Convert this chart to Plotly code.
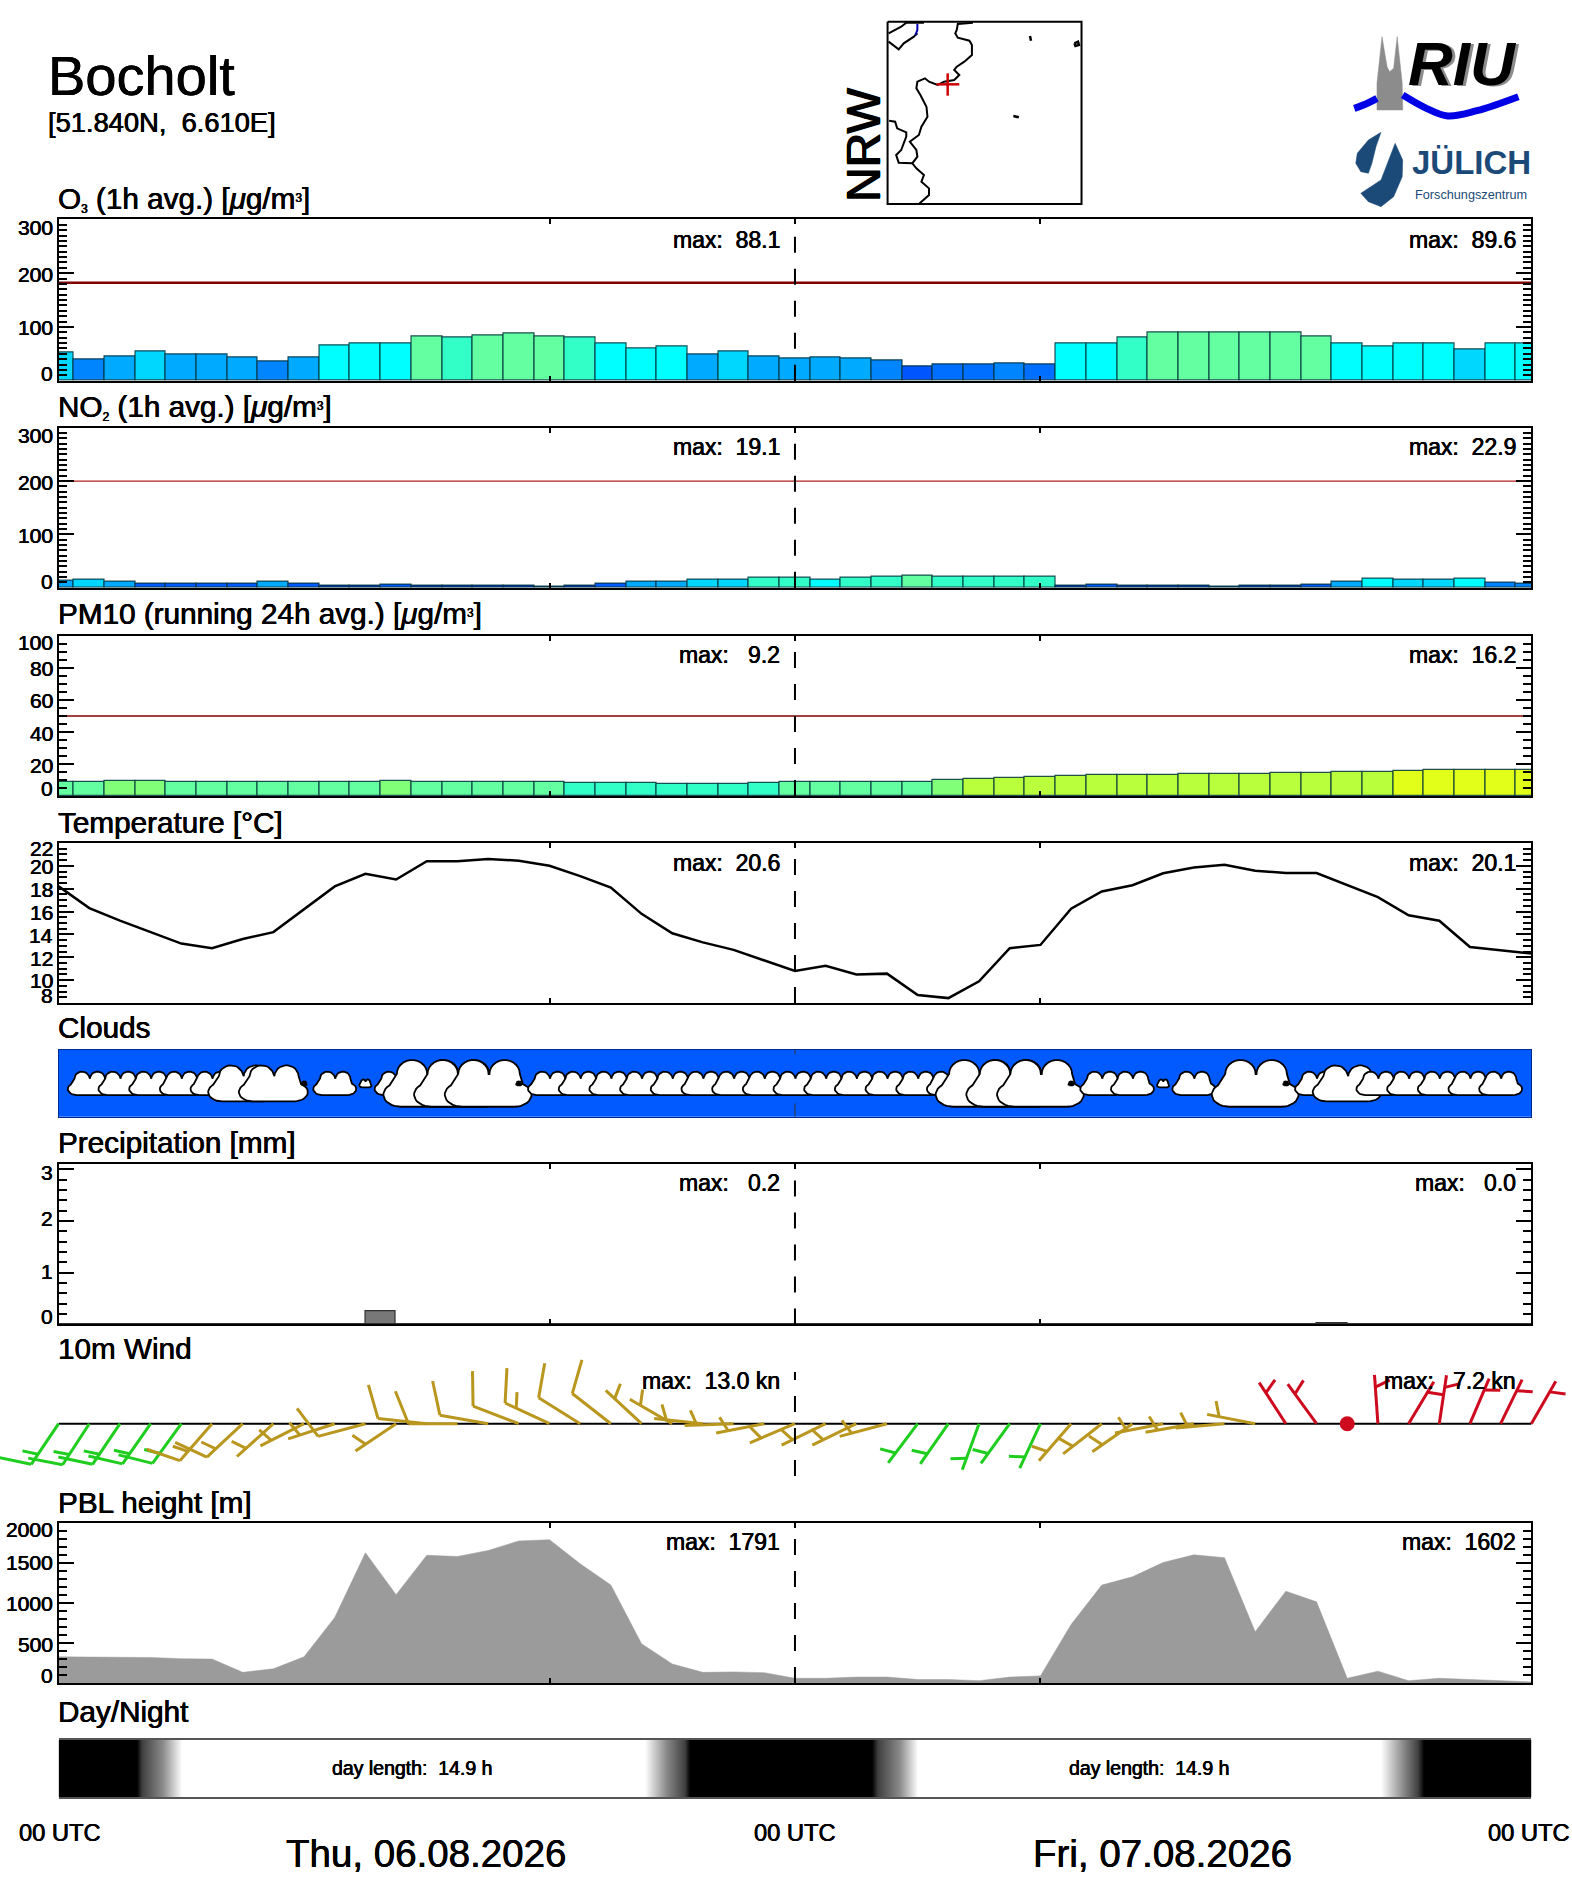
import plotly.graph_objects as go
import numpy as np

W, H = 1572, 1889
S = 1572 / 1306  # reference picture grid to figure pixels

hours = list(range(49))
half_hours = [h + 0.5 for h in range(48)]

o3 = [52, 39, 46, 54, 48, 48, 43, 35, 44, 65, 70, 70, 81.5, 80, 85, 88.1, 81.5, 80, 68.5, 61, 63, 48, 54, 46, 41,
      44, 41, 37, 26, 31, 31, 33, 31, 70, 70, 80, 89, 89, 89, 89.6, 89, 83, 68.5, 63, 70, 70, 59, 68.5, 70]
no2 = [13.7, 15, 11, 7.5, 7.5, 7, 7.5, 11, 7.5, 3.7, 3.7, 5.5, 3.7, 3.7, 3, 3, 2.5, 3.7, 7.5, 11, 11, 15, 15, 18, 19.1,
       16, 18.7, 20, 22.9, 20, 20, 20, 20, 4.5, 5.5, 3.5, 3.5, 3.5, 1.5, 3, 3.5, 5.5, 11, 17, 15, 15, 17, 9, 8]
pm10 = [9.0, 9.0, 9.2, 9.2, 9.0, 9.0, 8.9, 9.0, 9.0, 9.0, 9.0, 9.2, 8.6, 8.6, 8.6, 8.6, 8.6, 8.4, 8.0, 8.0, 7.8, 7.8, 7.8, 8.0, 8.6,
        8.6, 9.0, 9.0, 9.0, 9.8, 10.8, 11.4, 12.0, 12.4, 13.0, 13.4, 13.4, 13.8, 13.8, 13.8, 14.4, 14.4, 15.0, 15.0, 15.4, 16.0, 16.2, 16.2, 16.2]
temperature = [18.2, 16.3, 15.2, 14.2, 13.2, 12.8, 13.6, 14.2, 16.2, 18.2, 19.3, 18.8, 20.4, 20.4, 20.6, 20.45, 20.0, 19.1, 18.1, 15.8, 14.1, 13.3, 12.65, 11.7, 10.8,
               11.26, 10.5, 10.57, 8.7, 8.43, 9.9, 12.8, 13.08, 16.25, 17.75, 18.3, 19.35, 19.85, 20.1, 19.57, 19.37, 19.37, 18.3, 17.26, 15.68, 15.2, 12.9, 12.6, 12.33]
precip = [0] * 48
precip[10] = 0.25
precip[41] = 0.02
pbl = [328, 328, 328, 320, 305, 300, 134, 179, 328, 820, 1627, 1105, 1597, 1582, 1657, 1776, 1791, 1490, 1224, 492, 239, 134, 140, 130, 60,
       60, 75, 75, 45, 45, 30, 75, 90, 731, 1224, 1328, 1507, 1602, 1567, 642, 1149, 1015, 60, 149, 30, 60, 45, 30, 15]
wind_dir = [214, 213, 214, 215, 216, 221, 227, 228, 243, 252, 255, 236, 276, 270, 280, 291, 295, 302, 308, 313, 300, 276, 268, 259, 247,
            244, 244, 255, 217, 215, 200, 216, 205, 221, 232, 235, 259, 260, 265, 281, 327, 324, 0, 356, 31, 8.5, 23, 26, 30]
wind_kn = [12.6, 12.6, 12.6, 12.6, 12.6, 12.6, 12.6, 7, 7, 7, 9, 7, 10, 10, 10, 10, 13, 10, 10, 7, 7, 7, 7, 7, 7,
           6, 6, 6, 6, 6, 6, 6, 6, 6, 6, 6, 6, 6, 6, 6, 7, 7, 0, 7.2, 7, 7, 7, 7, 7]
# 0 none, 1 speck, 2 tiny, 3 small, 4 medium, 5 large
cloud_class = [0, 3, 3, 3, 3, 3, 4, 4, 1, 3, 2, 3, 5, 5, 5, 1, 3, 3, 3, 3, 3, 3, 3, 3, 3,
               3, 3, 3, 3, 3, 5, 5, 5, 1, 3, 3, 2, 3, 1, 5, 1, 3, 4, 3, 3, 3, 3, 3, 0]
cloud_w = {1: 0.17, 2: 0.40, 3: 1.40, 4: 2.25, 5: 2.83}
cloud_h = {1: 0.06, 2: 0.12, 3: 0.35, 4: 0.54, 5: 0.70}
light_hours = [0, 2.55, 2.7, 3.4, 4.0, 19.1, 19.8, 20.4, 20.57, 26.5, 26.7, 27.4, 28.0, 43.1, 43.8, 44.3, 44.5, 48]
light_level = [0, 0, .25, .55, 1, 1, .55, .25, 0, 0, .25, .55, 1, 1, .55, .25, 0, 0]

SMALL = '<span style="font-size:17px">%s</span>'
panel_titles = ['O' + SMALL % '<sub>3</sub>' + ' (1h avg.) [<i>μ</i>g/m' + SMALL % '<sup>3</sup>' + ']',
                'NO' + SMALL % '<sub>2</sub>' + ' (1h avg.) [<i>μ</i>g/m' + SMALL % '<sup>3</sup>' + ']',
                'PM10 (running 24h avg.) [<i>μ</i>g/m' + SMALL % '<sup>3</sup>' + ']',
                'Temperature [°C]', 'Clouds', 'Precipitation [mm]', '10m Wind', 'PBL height [m]', 'Day/Night']
title_rows = [165, 338, 510, 683, 854, 949, 1120, 1248, 1422]
NB = '\u00a0'
max_labels = [('88.1', '89.6', 199, 2, 2), ('19.1', '22.9', 371, 2, 2), ('9.2', '16.2', 544, 3, 2), ('20.6', '20.1', 717, 2, 2),
              ('0.2', '0.0', 983, 3, 3), ('13.0 kn', '7.2 kn', 1147, 2, 3), ('1791', '1602', 1281, 2, 2)]
o3_labels = [('300', 189), ('200', 228), ('100', 272), ('0', 310)]
no2_labels = [('300', 362), ('200', 401), ('100', 445), ('0', 483)]
pm10_labels = [('100', 534), ('80', 555), ('60', 582), ('40', 609), ('20', 636), ('0', 655)]
temp_labels = [('22', 705), ('20', 720), ('18', 739), ('16', 758), ('14', 777), ('12', 796), ('10', 815), ('8', 827)]
precip_labels = [('3', 974), ('2', 1012), ('1', 1056), ('0', 1094)]
pbl_labels = [('2000', 1271), ('1500', 1298), ('1000', 1332), ('500', 1366), ('0', 1392)]

# map and logo outlines, in the grid of the header crop
border_x = [382, 352, 350, 347, 352, 375, 380, 380, 365, 350, 345, 355, 345, 325, 312, 295, 287, 272, 270, 278, 290, 292, 280, 275, 257, 270, 272, 262, 270, 285, 280, 295, 295, 285, 275]
border_y = [68, 72, 90, 100, 113, 122, 135, 165, 185, 200, 210, 225, 240, 245, 255, 245, 235, 245, 265, 285, 320, 350, 380, 405, 425, 450, 470, 490, 505, 525, 545, 565, 585, 600, 612]
enclave_x = [216, 228, 232, 250, 250, 240, 230, 235, 262]
enclave_y = [362, 365, 385, 397, 410, 450, 465, 488, 490]
lake_x = [215, 240, 250, 285, None, 215, 235, 245, 265, 272]
lake_y = [100, 80, 68, 68, None, 125, 148, 130, 110, 100]
lake_blue_x = [272, 272, 268]
lake_blue_y = [72, 90, 105]
speck_x = [495, 497, None, 583, 590, 592, 585, 583, None, 462, 473]
speck_y = [108, 122, None, 130, 125, 135, 138, 130, None, 348, 352]
church_x = [1182, 1182, 1192, 1202, 1207, 1215, 1222, 1232, 1233, 1182]
church_y = [330, 250, 110, 200, 215, 205, 110, 250, 330, 330]
wave_a_x = [1137, 1160, 1182]
wave_a_y = [325, 312, 295]
wave_b_x = [1233, 1280, 1322, 1380, 1462]
wave_b_y = [285, 325, 348, 332, 290]
drop_a_x = [1190, 1165, 1143, 1140, 1150, 1165, 1172, 1180, 1190]
drop_a_y = [397, 420, 460, 490, 515, 520, 490, 440, 397]
drop_b_x = [1218, 1205, 1190, 1150, 1165, 1190, 1215, 1232, 1233, 1218]
drop_b_y = [430, 480, 540, 580, 605, 620, 590, 530, 480, 430]

BLACK = '#000000'
FONT = 'Liberation Sans'


def arc(cx, cy, rx, ry, a0, a1, n=14):
    t = np.radians(np.linspace(a0, a1, n))
    return list(cx + rx * np.cos(t)), list(cy + ry * np.sin(t))


def cloud_outline():
    xs, ys = [], []
    for spec in [(-.30, .26, .20, .26, 270, 130), (-.17, .70, .175, .30, 180, 0), (.19, .70, .175, .30, 180, 0), (.30, .26, .20, .26, 60, -90)]:
        ax_, ay_ = arc(*spec)
        xs += ax_
        ys += ay_
    return xs + [xs[0]], ys + [ys[0]]


cloud_x, cloud_y = cloud_outline()


def vfrac(y):
    return 1 - y / H


def o3_color(v):
    for lim, c in [(28, '#0055ff'), (33, '#006eff'), (40, '#0085ff'), (50, '#00aaff'), (60, '#00d7ff'), (75, '#00ffff'), (81, '#32ffc8')]:
        if v < lim:
            return c
    return '#64ffa0'


def no2_color(v):
    for lim, c in [(5, '#0032c8'), (8, '#005aff'), (10, '#0085ff'), (14, '#00aaff'), (16, '#00d7ff'), (18, '#00ffff'), (22, '#32ffc8')]:
        if v < lim:
            return c
    return '#64ffa0'


def pm_color(v):
    for lim, c in [(8.5, '#32ffc8'), (9.05, '#64ffa0'), (10.3, '#82ff78'), (15.2, '#b9ff3c')]:
        if v < lim:
            return c
    return '#e1ff19'


fig = go.Figure()
layout = dict(width=W, height=H, margin=dict(l=0, r=0, t=0, b=0), paper_bgcolor='white', plot_bgcolor='rgba(0,0,0,0)',
              showlegend=False, font=dict(family=FONT, color=BLACK), hovermode=False)
X0, X1 = 48.7 * S, 1272.2 * S
annotations, shapes = [], []
HEAVY = '0.35px 0 0 %s, -0.35px 0 0 %s'


def note(x, y, text, size, anchor='left'):
    shift = {'left': -2, 'right': 2.5, 'center': 0}[anchor]
    annotations.append(dict(x=x * S / W, y=vfrac(y * S), xref='paper', yref='paper', text=text, showarrow=False, xshift=shift,
                            xanchor=anchor, yanchor='middle', font=dict(size=size, family=FONT, color=BLACK, shadow=HEAVY % (BLACK, BLACK))))


def panel(n, top, bottom, yrange, major, minor, ticks=True):
    sfx = '' if n == 1 else str(n)
    top, bottom = top + 1.3, bottom + 0.3
    layout['xaxis' + sfx] = dict(domain=[X0 / W, X1 / W], range=[0, 48], anchor='y' + sfx, showgrid=False, zeroline=False,
                                 showline=True, mirror='ticks' if ticks else True, linecolor=BLACK, linewidth=2,
                                 ticks='inside' if ticks else '', tickvals=[16, 24, 32] if ticks else [], ticklen=5, tickwidth=1.5,
                                 tickcolor=BLACK, showticklabels=False, fixedrange=True)
    ya = dict(domain=[vfrac(bottom * S), vfrac(top * S)], range=yrange, anchor='x' + sfx, showgrid=False, zeroline=False,
              showline=True, mirror='ticks' if ticks else True, linecolor=BLACK, linewidth=2, showticklabels=False, fixedrange=True)
    if ticks:
        ya.update(ticks='inside', dtick=major, tick0=yrange[0] if yrange[0] % major == 0 else 0, ticklen=15, tickwidth=1.5, tickcolor=BLACK,
                  minor=dict(dtick=minor, tick0=0, ticks='inside', ticklen=8, tickwidth=2, tickcolor=BLACK))
    else:
        ya.update(ticks='', tickvals=[])
    layout['yaxis' + sfx] = ya
    return dict(xaxis='x' + sfx, yaxis='y' + sfx), sfx


def midline(sfx):
    shapes.append(dict(type='line', xref='x' + sfx, yref=('y' + sfx + ' domain'), x0=24, x1=24, y0=0, y1=1,
                       line=dict(color=BLACK, width=2, dash='16px,16px')))


def threshold(ax, value, width, color):
    fig.add_trace(go.Scatter(x=[0, 48], y=[value, value], mode='lines', line=dict(color=color, width=width), **ax))


def bars(ax, x, y, colors):
    fig.add_trace(go.Bar(x=x, y=y, width=1, marker=dict(color=colors, line=dict(color='rgba(0,50,60,0.85)', width=1.2)), **ax))


# O3
ax, sfx = panel(1, 181, 316, [0, 300], 100, 10)
bars(ax, hours, o3, [o3_color(v) for v in o3])
threshold(ax, 182, 2.5, '#800000')
midline(sfx)
# NO2
ax, sfx = panel(2, 354, 488, [0, 300], 100, 10)
bars(ax, hours, no2, [no2_color(v) for v in no2])
threshold(ax, 200, 1.2, '#b02020')
midline(sfx)
# PM10
ax, sfx = panel(3, 527, 661, [0, 100], 20, 5)
bars(ax, hours, pm10, [pm_color(v) for v in pm10])
threshold(ax, 50, 1.5, '#800000')
midline(sfx)
# temperature
ax, sfx = panel(4, 699, 833, [8, 22], 2, 0.5)
fig.add_trace(go.Scatter(x=hours, y=temperature, mode='lines', line=dict(color=BLACK, width=2.5), **ax))
midline(sfx)
# clouds
ax, sfx = panel(5, 871, 927.5, [0, 1], 1, 1, ticks=False)
shapes.append(dict(type='rect', xref='x5 domain', yref='y5 domain', x0=0, x1=1, y0=0, y1=1, fillcolor='#005aff', line=dict(width=0), layer='below'))
layout['xaxis5']['linecolor'] = '#002a90'
layout['yaxis5']['linecolor'] = '#002a90'
layout['xaxis5']['linewidth'] = 1
layout['yaxis5']['linewidth'] = 1
for h, c in zip(hours, cloud_class):
    if c == 0:
        continue
    fig.add_trace(go.Scatter(x=[h + cloud_w[c] * t for t in cloud_x],
                             y=[0.5 + cloud_h[c] * (t - 0.5) for t in cloud_y],
                             mode='lines', fill='toself', fillcolor=BLACK if c == 1 else 'white',
                             line=dict(color=BLACK, width=1.8), **ax))
fig.add_trace(go.Scatter(x=[24, 24, None, 24, 24], y=[0.94, 1, None, 0, 0.2], mode='lines', line=dict(color='#333333', width=1), **ax))
# precipitation
ax, sfx = panel(6, 966, 1100, [0, 3.1], 1, 0.2)
fig.add_trace(go.Bar(x=half_hours, y=precip, width=1, marker=dict(color='#787878', line=dict(color='#333333', width=1.2)), **ax))
midline(sfx)
# wind: one y unit is drawn as long as one hour
ppu = (X1 - X0) / 48
wind_top, wind_bot, wind_base = 1328.0, 1510.0, 1182.8 * S
wind_left, wind_right = -X0 / ppu, (W - X0) / ppu
sfx = '7'
layout['xaxis7'] = dict(domain=[0, 1], range=[wind_left, wind_right], anchor='y7', visible=False, fixedrange=True)
layout['yaxis7'] = dict(domain=[vfrac(wind_bot), vfrac(wind_top)], range=[-(wind_bot - wind_base) / ppu, (wind_base - wind_top) / ppu],
                        anchor='x7', visible=False, fixedrange=True)
ax = dict(xaxis='x7', yaxis='y7')
fig.add_trace(go.Scatter(x=[0, 48], y=[0, 0], mode='lines', line=dict(color=BLACK, width=2), **ax))
STAFF, FULL, HALF = 49 / ppu, 35 / ppu, 16 / ppu
groups = {'#1ecd1e': ([], []), '#b9961e': ([], []), '#cd0a1e': ([], [])}
for h, d, s in zip(hours, wind_dir, wind_kn):
    if s == 0:
        continue
    col = '#1ecd1e' if 180 <= d < 218 else ('#b9961e' if 218 <= d < 320 else '#cd0a1e')
    gx, gy = groups[col]
    a, b = np.radians(d), np.radians(d + 68)
    ex, ey = h + STAFF * np.sin(a), STAFF * np.cos(a)
    gx += [h, ex, None]
    gy += [0, ey, None]
    steps = int(round(s / 5))
    frac = 1.0
    for _ in range(steps // 2):
        gx += [h + frac * STAFF * np.sin(a), h + frac * STAFF * np.sin(a) + FULL * np.sin(b), None]
        gy += [frac * STAFF * np.cos(a), frac * STAFF * np.cos(a) + FULL * np.cos(b), None]
        frac -= 0.25
    if steps % 2:
        frac = min(frac, 0.75)
        gx += [h + frac * STAFF * np.sin(a), h + frac * STAFF * np.sin(a) + HALF * np.sin(b), None]
        gy += [frac * STAFF * np.cos(a), frac * STAFF * np.cos(a) + HALF * np.cos(b), None]
for col, (gx, gy) in groups.items():
    fig.add_trace(go.Scatter(x=gx, y=gy, mode='lines', line=dict(color=col, width=3), **ax))
fig.add_trace(go.Scatter(x=[h for h, s in zip(hours, wind_kn) if s == 0], y=[0 for s in wind_kn if s == 0], mode='markers',
                         marker=dict(color='#cd0a1e', size=15), **ax))
shapes.append(dict(type='line', xref='x7', yref='y7', x0=24, x1=24, y0=-(1476 - wind_base) / ppu, y1=(wind_base - 1372) / ppu,
                   line=dict(color=BLACK, width=2, dash='16px,16px')))
# PBL
ax, sfx = panel(8, 1264, 1398, [0, 2000], 500, 100)
fig.add_trace(go.Scatter(x=hours, y=pbl, mode='lines', fill='tozeroy', fillcolor='#9b9b9b', line=dict(color='#9b9b9b', width=0.5), **ax))
midline(sfx)
# day / night
ax, sfx = panel(9, 1444, 1493, [0, 1], 1, 1, ticks=False)
fig.add_trace(go.Heatmap(x=light_hours, y=[0, 1], z=[light_level, light_level], zmin=0, zmax=1, zsmooth='best', showscale=False,
                         colorscale=[[0, 'black'], [1, 'white']], **ax))
layout['xaxis9']['linecolor'] = '#555555'
layout['xaxis9']['linewidth'] = 1.5
layout['yaxis9']['showline'] = False

# text
for t, y in zip(panel_titles, title_rows):
    note(48, y, t, 29.7)
note(40, 63, 'Bocholt', 56)
note(40, 102, '[51.840N,' + NB + NB + '6.610E]', 27.3)
for a, b, y, na, nb in max_labels:
    note(647.5, y, 'max:' + NB * na + a, 23, 'right')
    note(1259, y, 'max:' + NB * nb + b, 23, 'right')
for labels in (o3_labels, no2_labels, pm10_labels, temp_labels, precip_labels, pbl_labels):
    for t, y in labels:
        note(43.5, y, t, 21, 'right')
for x in (49.5, 660.7, 1270.5):
    note(x, 1522.5, '00 UTC', 23.7, 'center')
note(354, 1540, 'Thu, 06.08.2026', 38.5, 'center')
note(966, 1540, 'Fri, 07.08.2026', 38.5, 'center')
note(342.5, 1468.5, 'day length:' + NB + NB + '14.9 h', 19.5, 'center')
note(954.5, 1468.5, 'day length:' + NB + NB + '14.9 h', 19.5, 'center')

# header overlay: pixel-grid axes over the page head
HEAD = 215
layout['xaxis20'] = dict(domain=[0, 1], range=[0, W], anchor='y20', visible=False, fixedrange=True)
layout['yaxis20'] = dict(domain=[vfrac(HEAD), 1], range=[HEAD, 0], anchor='x20', visible=False, fixedrange=True)
ov = dict(xaxis='x20', yaxis='y20')


def hx(a):
    return [None if v is None else 780 + v / 1.98 for v in a]


def hy(a):
    return [None if v is None else v / 3 for v in a]


fig.add_trace(go.Scatter(x=hx([213, 597, 597, 213, 213]), y=hy([65, 65, 612, 612, 65]), mode='lines', line=dict(color=BLACK, width=2), **ov))
for xs, ys, col, wd in [(border_x, border_y, BLACK, 2), (enclave_x, enclave_y, BLACK, 2), (lake_x, lake_y, BLACK, 2), (lake_blue_x, lake_blue_y, '#0000b0', 2), (speck_x, speck_y, BLACK, 2.5)]:
    fig.add_trace(go.Scatter(x=hx(xs), y=hy(ys), mode='lines', line=dict(color=col, width=wd), **ov))
fig.add_trace(go.Scatter(x=hx([310, 355, None, 332, 332]), y=hy([253, 253, None, 220, 287]), mode='lines', line=dict(color='#cc0000', width=2.5), **ov))
annotations.append(dict(x=863 / W, y=vfrac(145), xref='paper', yref='paper', text='NRW', showarrow=False, textangle=-90,
                        xanchor='center', yanchor='middle', font=dict(size=48, family=FONT, color=BLACK, shadow='0.8px 0 0 #000, -0.8px 0 0 #000')))
for xs, ys, col, fill in [(church_x, church_y, '#8c8c8c', True), (drop_a_x, drop_a_y, '#1c4a78', True), (drop_b_x, drop_b_y, '#1c4a78', True)]:
    fig.add_trace(go.Scatter(x=hx(xs), y=hy(ys), mode='lines', fill='toself', fillcolor=col, line=dict(color=col, width=0.5), **ov))
for xs, ys in [(wave_a_x, wave_a_y), (wave_b_x, wave_b_y)]:
    fig.add_trace(go.Scatter(x=hx(xs), y=hy(ys), mode='lines', line=dict(color='#0000e6', width=7, shape='spline'), **ov))
for dx, dy, col in [(3, 2, '#8c8c8c'), (0, 0, BLACK)]:
    annotations.append(dict(x=(1462 + dx) / W, y=vfrac(63 + dy), xref='paper', yref='paper', text='<b><i>RIU</i></b>', showarrow=False,
                            xanchor='center', yanchor='middle', font=dict(size=62, family=FONT, color=col)))
annotations.append(dict(x=1471 / W, y=vfrac(163), xref='paper', yref='paper', text='<b>JÜLICH</b>', showarrow=False,
                        xanchor='center', yanchor='middle', font=dict(size=33, family=FONT, color='#1c4a78')))
annotations.append(dict(x=1471 / W, y=vfrac(195), xref='paper', yref='paper', text='Forschungszentrum', showarrow=False,
                        xanchor='center', yanchor='middle', font=dict(size=12.7, family=FONT, color='#1c4a78')))

layout['annotations'] = annotations
layout['shapes'] = shapes
layout['bargap'] = 0
fig.update_layout(**layout)
fig.write_html('out.html', config=dict(displayModeBar=False),
               post_script="document.body.style.margin='0';document.documentElement.style.overflow='hidden';")
